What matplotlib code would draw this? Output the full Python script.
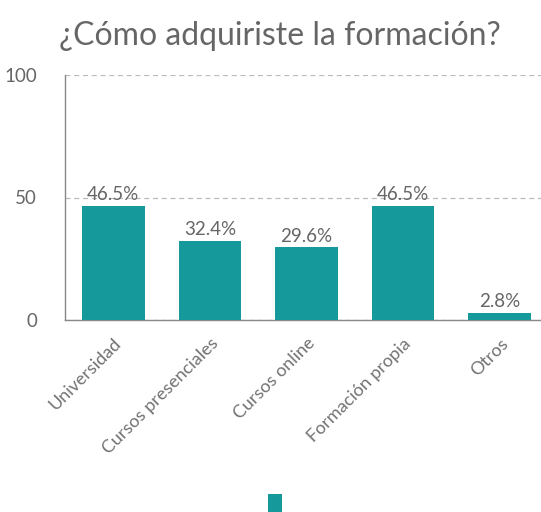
import matplotlib
matplotlib.use("Agg")
import matplotlib.pyplot as plt
from matplotlib.patches import Patch

categories = ["Universidad", "Cursos presenciales", "Cursos online", "Formación propia", "Otros"]
values = [46.5, 32.4, 29.6, 46.5, 2.8]
yticks = [0, 50, 100]
title = "¿Cómo adquiriste la formación?"

plt.rcParams['font.family'] = ['Lato', 'DejaVu Sans']
teal = "#16999a"
txt = "#666666"

fig = plt.figure(figsize=(5.41, 5.12), dpi=100)
ax = fig.add_axes([65/541, 1-320/512, 483/541, 245/512])
x = list(range(len(categories)))
ax.bar(x, values, width=0.65, color=teal, zorder=3)
ax.set_xlim(-0.5, len(categories) - 0.5)
ax.set_ylim(0, 100)
ax.set_yticks(yticks)
ax.set_yticklabels([str(v) for v in yticks], fontsize=13.5, color=txt)
ax.set_xticks(x)
ax.set_xticklabels(categories, rotation=45, ha='right', rotation_mode='anchor',
                   fontsize=13, color='#727272')
ax.tick_params(axis='both', length=0)
ax.tick_params(axis='y', pad=20)
ax.tick_params(axis='x', pad=11)
ax.grid(axis='y', linestyle=(0, (4, 3)), color='#bbbbbb', linewidth=0.9, zorder=0)
for s in ['top', 'right']:
    ax.spines[s].set_visible(False)
for s in ['left', 'bottom']:
    ax.spines[s].set_color('#888888')
    ax.spines[s].set_linewidth(1.0)
for xi, v in zip(x, values):
    ax.text(xi, v + 1.2, f"{v}%", ha='center', va='bottom', fontsize=13.5, color=txt, zorder=4)

fig.text(0.518, 1-36/512, title, ha='center', va='center', fontsize=23, color=txt)

fig.legend(handles=[Patch(facecolor=teal)], labels=[''], loc='upper center',
           bbox_to_anchor=(0.508, 1-482/512), frameon=False,
           handlelength=1.0, handleheight=1.6, handletextpad=0, fontsize=10)

fig.savefig("out.png", dpi=100, facecolor='white')
